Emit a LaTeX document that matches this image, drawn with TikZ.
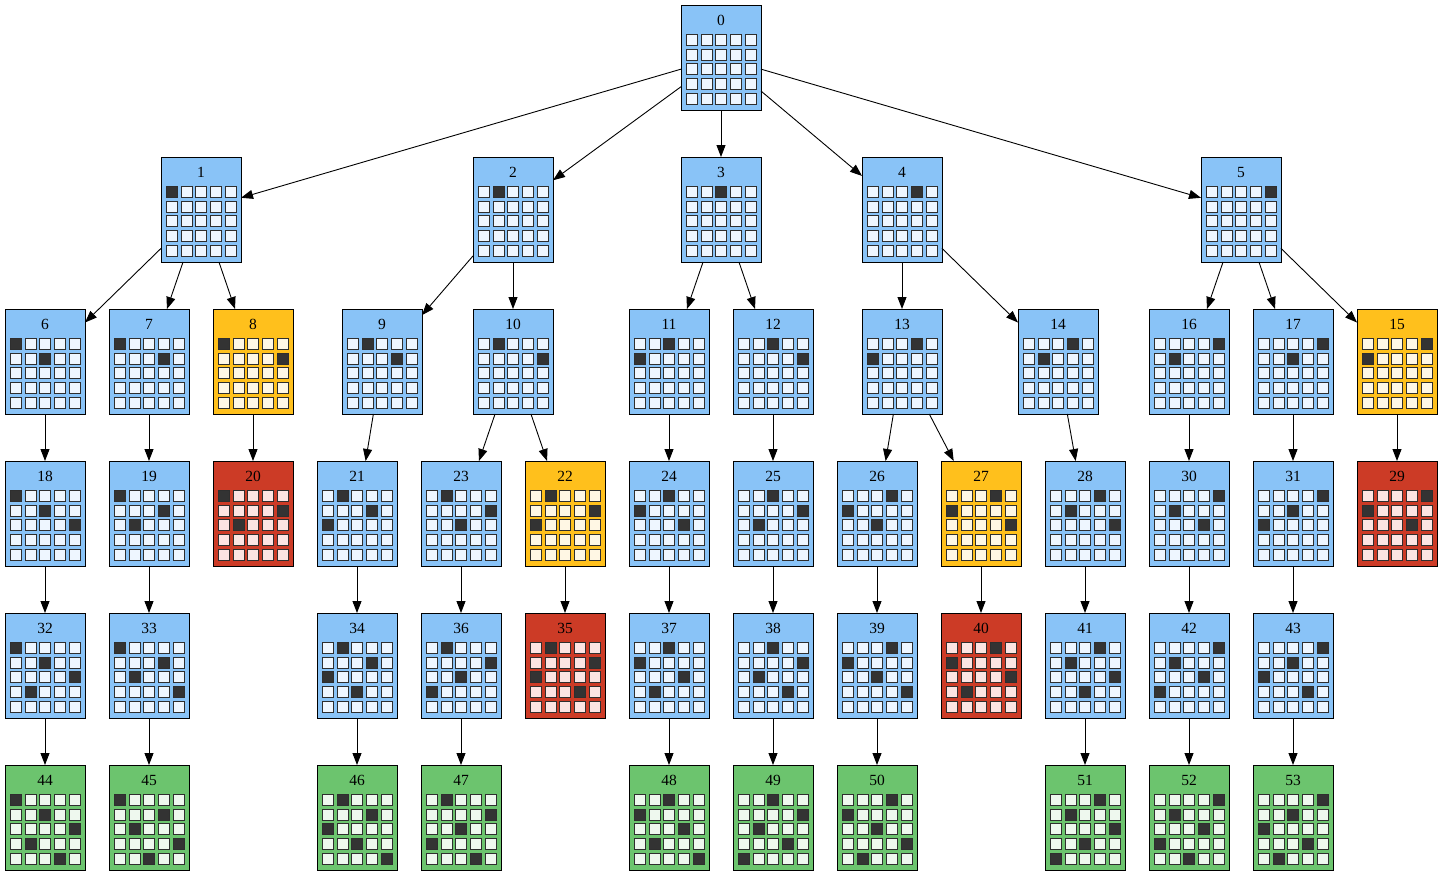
\documentclass[tikz,border=0pt]{standalone}
\usepackage{fontspec}
\setmainfont{Liberation Serif}
\usetikzlibrary{arrows.meta}
\definecolor{bF}{HTML}{89C3F7}\definecolor{bC}{HTML}{EEF6FF}
\definecolor{yF}{HTML}{FFC01C}\definecolor{yC}{HTML}{FFF7E4}
\definecolor{rF}{HTML}{CC3B26}\definecolor{rC}{HTML}{FCE4E2}
\definecolor{gF}{HTML}{6CC46E}\definecolor{gC}{HTML}{EEF8EE}
\definecolor{qD}{HTML}{333333}\definecolor{cB}{HTML}{2E2E2E}
\tikzset{
  qbox/.style={draw=black, line width=0.9pt, minimum width=80pt, minimum height=105pt, inner sep=0pt, outer sep=0pt},
  edge/.style={draw=black, line width=0.9pt, -{Triangle[length=12pt,width=9pt]}},
  cellst/.style={draw=cB, line width=1pt},
  qlab/.style={font=\fontsize{15.5}{18}\selectfont, inner sep=0pt},
}
\newcommand{\qq}[3]{%
  \foreach \c [count=\r from 0] in {#3}{%
    \filldraw[cellst, fill=qD] ({#1-34.3+14.6*\c},{#2-22.8+14.6*\r}) rectangle +(11,11);
  }}
\newcommand{\qn}[6]{%
  \node[qbox, fill=#5F] (#1) at (#2,#3) {};
  \node[qlab] (#1-t) at ({#2},{#3-37.3}) {#4};
  \foreach \r in {0,...,4}{\foreach \c in {0,...,4}{%
    \filldraw[cellst, fill=#5C] ({#2-34.3+14.6*\c},{#3-22.8+14.6*\r}) rectangle +(11,11);
  }}
  \if\relax\detokenize{#6}\relax\else\qq{#2}{#3}{#6}\fi
}
\begin{document}
\begin{tikzpicture}[x=1pt,y=-1pt]
\useasboundingbox (0,0) rectangle (1443,875);
% row 0
\qn{n0}{721}{57.5}{0}{b}{}
% row 1
\qn{n1}{201}{209.5}{1}{b}{0}
\qn{n2}{513}{209.5}{2}{b}{1}
\qn{n3}{721}{209.5}{3}{b}{2}
\qn{n4}{902}{209.5}{4}{b}{3}
\qn{n5}{1241}{209.5}{5}{b}{4}
% row 2
\qn{n6}{45}{361.5}{6}{b}{0,2}
\qn{n7}{149}{361.5}{7}{b}{0,3}
\qn{n8}{253}{361.5}{8}{y}{0,4}
\qn{n9}{382}{361.5}{9}{b}{1,3}
\qn{n10}{513}{361.5}{10}{b}{1,4}
\qn{n11}{669}{361.5}{11}{b}{2,0}
\qn{n12}{773}{361.5}{12}{b}{2,4}
\qn{n13}{902}{361.5}{13}{b}{3,0}
\qn{n14}{1058}{361.5}{14}{b}{3,1}
\qn{n16}{1189}{361.5}{16}{b}{4,1}
\qn{n17}{1293}{361.5}{17}{b}{4,2}
\qn{n15}{1397}{361.5}{15}{y}{4,0}
% row 3
\qn{n18}{45}{513.5}{18}{b}{0,2,4}
\qn{n19}{149}{513.5}{19}{b}{0,3,1}
\qn{n20}{253}{513.5}{20}{r}{0,4,1}
\qn{n21}{357}{513.5}{21}{b}{1,3,0}
\qn{n23}{461}{513.5}{23}{b}{1,4,2}
\qn{n22}{565}{513.5}{22}{y}{1,4,0}
\qn{n24}{669}{513.5}{24}{b}{2,0,3}
\qn{n25}{773}{513.5}{25}{b}{2,4,1}
\qn{n26}{877}{513.5}{26}{b}{3,0,2}
\qn{n27}{981}{513.5}{27}{y}{3,0,4}
\qn{n28}{1085}{513.5}{28}{b}{3,1,4}
\qn{n30}{1189}{513.5}{30}{b}{4,1,3}
\qn{n31}{1293}{513.5}{31}{b}{4,2,0}
\qn{n29}{1397}{513.5}{29}{r}{4,0,3}
% row 4
\qn{n32}{45}{665.5}{32}{b}{0,2,4,1}
\qn{n33}{149}{665.5}{33}{b}{0,3,1,4}
\qn{n34}{357}{665.5}{34}{b}{1,3,0,2}
\qn{n36}{461}{665.5}{36}{b}{1,4,2,0}
\qn{n35}{565}{665.5}{35}{r}{1,4,0,3}
\qn{n37}{669}{665.5}{37}{b}{2,0,3,1}
\qn{n38}{773}{665.5}{38}{b}{2,4,1,3}
\qn{n39}{877}{665.5}{39}{b}{3,0,2,4}
\qn{n40}{981}{665.5}{40}{r}{3,0,4,1}
\qn{n41}{1085}{665.5}{41}{b}{3,1,4,2}
\qn{n42}{1189}{665.5}{42}{b}{4,1,3,0}
\qn{n43}{1293}{665.5}{43}{b}{4,2,0,3}
% row 5
\qn{n44}{45}{817.5}{44}{g}{0,2,4,1,3}
\qn{n45}{149}{817.5}{45}{g}{0,3,1,4,2}
\qn{n46}{357}{817.5}{46}{g}{1,3,0,2,4}
\qn{n47}{461}{817.5}{47}{g}{1,4,2,0,3}
\qn{n48}{669}{817.5}{48}{g}{2,0,3,1,4}
\qn{n49}{773}{817.5}{49}{g}{2,4,1,3,0}
\qn{n50}{877}{817.5}{50}{g}{3,0,2,4,1}
\qn{n51}{1085}{817.5}{51}{g}{3,1,4,2,0}
\qn{n52}{1189}{817.5}{52}{g}{4,1,3,0,2}
\qn{n53}{1293}{817.5}{53}{g}{4,2,0,3,1}
% edges
\foreach \p/\q in {n0/n1,n0/n2,n0/n3,n0/n4,n0/n5,
  n1/n6,n1/n7,n1/n8,n2/n9,n2/n10,n3/n11,n3/n12,n4/n13,n4/n14,n5/n16,n5/n17,n5/n15,
  n6/n18,n7/n19,n8/n20,n9/n21,n10/n23,n10/n22,n11/n24,n12/n25,n13/n26,n13/n27,n14/n28,n16/n30,n17/n31,n15/n29,
  n18/n32,n19/n33,n21/n34,n23/n36,n22/n35,n24/n37,n25/n38,n26/n39,n27/n40,n28/n41,n30/n42,n31/n43,
  n32/n44,n33/n45,n34/n46,n36/n47,n37/n48,n38/n49,n39/n50,n41/n51,n42/n52,n43/n53}
  \draw[edge] (\p) -- (\q);
\end{tikzpicture}
\end{document}
